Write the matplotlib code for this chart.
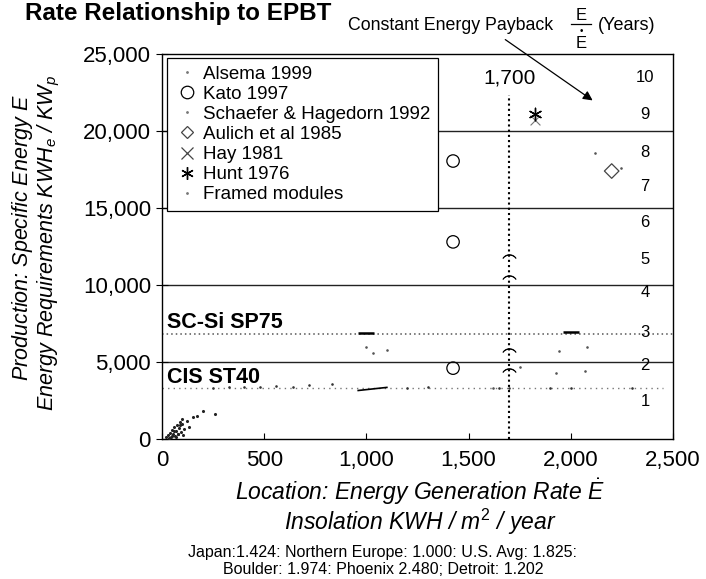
import matplotlib
matplotlib.use("Agg")
import matplotlib.pyplot as plt
from matplotlib.lines import Line2D
from matplotlib.ticker import FuncFormatter

plt.rcParams['font.family'] = ['Liberation Sans', 'DejaVu Sans']
plt.rcParams['mathtext.fontset'] = 'custom'
plt.rcParams['mathtext.rm'] = 'Liberation Sans'
plt.rcParams['mathtext.it'] = 'Liberation Sans:italic'

# ---- data ----
kato_x = [1424, 1424, 1424]
kato_y = [18050, 12800, 4600]
hunt_x = [1825]
hunt_y = [21100]
hay_x = [1825]
hay_y = [20700]
aulich_x = [2200]
aulich_y = [17400]
alsema_x = [1000, 1030, 1100, 1940, 2080, 1930, 2070, 1620, 1750, 2120, 2245]
alsema_y = [6000, 5600, 5750, 5700, 5950, 4300, 4400, 3300, 4700, 18600, 17600]
schaefer_x = [1700, 1700, 1700, 1700]
schaefer_y = [11900, 10500, 5800, 4500]
framed_x = [20, 30, 40, 45, 50, 55, 60, 65, 70, 75, 80, 85, 90, 95, 100, 105, 110,
            35, 48, 58, 68, 78, 88, 98, 120, 130, 150, 170, 200, 260]
framed_y = [100, 250, 400, 150, 600, 300, 800, 200, 500, 900, 350, 700, 1100, 450, 1000, 250, 650,
            50, 180, 520, 120, 300, 900, 1300, 1200, 800, 1400, 1500, 1800, 1600]
scsi_mark_x = [1000, 2000]
scsi_mark_y = [6880, 6950]
cis_seg_x = [960, 1100]
cis_seg_y = [3150, 3350]
cis_dots_x = [250, 330, 400, 480, 560, 640, 720, 830, 1200, 1300, 1650, 1700, 1900, 2000, 2300]
cis_dots_y = [3300, 3350, 3400, 3350, 3450, 3400, 3500, 3550, 3300, 3350, 3300, 3300, 3300, 3280, 3300]

years = [10, 9, 8, 7, 6, 5, 4, 3, 2, 1]
years_y = [23442, 21039, 18636, 16364, 14026, 11688, 9481, 6948, 4805, 2403]
years_x = 2363

grid_levels = [5000, 10000, 15000, 20000]
scsi_level = 6800
cis_level = 3300
ref_rate = 1700

xticks = [0, 500, 1000, 1500, 2000, 2500]
yticks = [0, 5000, 10000, 15000, 20000, 25000]

# ---- figure ----
W, H = 706, 579
fig = plt.figure(figsize=(W / 100, H / 100), dpi=100)
ax = fig.add_axes([162 / W, (H - 439) / H, (673 - 162) / W, (439 - 54) / H])
ax.set_xlim(0, 2500)
ax.set_ylim(0, 25000)

for lv in grid_levels:
    ax.axhline(lv, color='#222222', lw=1.0, zorder=1)
ax.axhline(scsi_level, color='#555555', lw=1.1, ls=(0, (1, 2)), zorder=1)
ax.plot([0, 2450], [cis_level, cis_level], color='#777777', lw=1.0, ls=(0, (1, 3)), zorder=1)
ax.plot([ref_rate, ref_rate], [0, 22340], color='black', lw=1.5, ls=(0, (1, 1.5)), zorder=2)

ax.scatter(alsema_x, alsema_y, s=3, color='#555555', marker='.', zorder=3)
ax.scatter(kato_x, kato_y, s=80, facecolors='none', edgecolors='black', lw=0.9, marker='o', zorder=3)
ax.scatter(schaefer_x, schaefer_y, s=90, color='black', marker=r'$\frown$', lw=0.5, zorder=3)
ax.scatter(aulich_x, aulich_y, s=55, facecolors='none', edgecolors='#444444', lw=0.9, marker='D', zorder=3)
ax.scatter(hay_x, hay_y, s=50, color='#777777', marker='x', lw=0.8, zorder=3)
ax.scatter(hunt_x, hunt_y, s=80, color='black', marker=(6, 2, 0), lw=1.0, zorder=3)
ax.scatter(framed_x, framed_y, s=6, color='#222222', marker='.', zorder=3)
ax.scatter(scsi_mark_x, scsi_mark_y, s=120, color='black', marker='_', lw=1.8, zorder=3)
ax.plot(cis_seg_x, cis_seg_y, color='black', lw=1.2, zorder=3)
ax.scatter(cis_dots_x, cis_dots_y, s=3, color='#333333', marker='.', zorder=3)

# legend
handles = [
    Line2D([], [], ls='none', marker='.', ms=2, color='#777777'),
    Line2D([], [], ls='none', marker='o', ms=9, mfc='none', mec='black', mew=0.9),
    Line2D([], [], ls='none', marker='.', ms=2, color='#777777'),
    Line2D([], [], ls='none', marker='D', ms=6, mfc='none', mec='#444444', mew=0.9),
    Line2D([], [], ls='none', marker='x', ms=8, color='#444444', mew=0.9),
    Line2D([], [], ls='none', marker=(6, 2, 0), ms=9, color='black', mew=1.0),
    Line2D([], [], ls='none', marker='.', ms=2, color='#777777'),
]
labels = ['Alsema 1999', 'Kato 1997', 'Schaefer & Hagedorn 1992', 'Aulich et al 1985',
          'Hay 1981', 'Hunt 1976', 'Framed modules']
leg = ax.legend(handles, labels, loc='upper left', bbox_to_anchor=(5 / 511, (439 - 58) / 385),
                borderaxespad=0, fontsize=13.5, frameon=True, fancybox=False, framealpha=1,
                edgecolor='black', handlelength=1.3, handletextpad=0.2, labelspacing=0.16,
                borderpad=0.4)
leg.get_frame().set_linewidth(0.9)
leg.set_zorder(5)

# annotations
for n, yy in zip(years, years_y):
    ax.text(years_x, yy, str(n), ha='center', va='center', fontsize=12, zorder=4)
ax.text(ref_rate, 23442, '1,700', ha='center', va='center', fontsize=15)
ax.text(25, 7200, 'SC-Si SP75', ha='left', va='baseline', fontsize=15.5, fontweight='bold')
ax.text(25, 3650, 'CIS ST40', ha='left', va='baseline', fontsize=15.5, fontweight='bold')

# axes styling
ax.set_xticks(xticks)
ax.set_yticks(yticks)
fmt = FuncFormatter(lambda v, p: f'{int(v):,}')
ax.xaxis.set_major_formatter(fmt)
ax.yaxis.set_major_formatter(fmt)
ax.tick_params(axis='x', direction='in', length=4, labelsize=16, pad=8)
ax.tick_params(axis='y', direction='inout', length=8, labelsize=16, pad=4)
for sp in ax.spines.values():
    sp.set_linewidth(1.0)

# titles and labels
fig.text(25 / W, 1 - 20 / H, 'Rate Relationship to EPBT', fontsize=17.5, fontweight='bold',
         ha='left', va='baseline')
fig.text(348 / W, 1 - 26 / H, 'Constant Energy Payback', fontsize=12.8, ha='left', va='center')
fig.text(581 / W, 1 - 15 / H, 'E', fontsize=12, ha='center', va='center')
fig.add_artist(Line2D([571 / W, 591 / W], [1 - 24 / H, 1 - 24 / H], color='black', lw=0.9))
fig.text(581 / W, 1 - 43 / H, 'E', fontsize=12, ha='center', va='center')
fig.text(581 / W, 1 - 31 / H, '•', fontsize=7, ha='center', va='center')
fig.text(598 / W, 1 - 26 / H, '(Years)', fontsize=13, ha='left', va='center')
ax.annotate('', xy=(2118, 21883), xycoords='data', xytext=(503 / W, 1 - 38 / H),
            textcoords='figure fraction',
            arrowprops=dict(arrowstyle='-|>', color='black', lw=0.9, mutation_scale=14))

fig.text(23 / W, 1 - 238 / H, 'Production: Specific Energy $\\mathit{E}$', rotation=90,
         fontsize=15.5, style='italic', ha='center', va='center')
fig.text(49 / W, 1 - 243 / H, 'Energy Requirements KWH$_e$ / KW$_p$', rotation=90,
         fontsize=15.5, style='italic', ha='center', va='center')

fig.text(420 / W, 1 - 492 / H, 'Location: Energy Generation Rate $\\dot{E}$', fontsize=16.5,
         style='italic', ha='center', va='center')
fig.text(420 / W, 1 - 522 / H, 'Insolation KWH / $\\mathit{m}^2$ / year', fontsize=16.5,
         style='italic', ha='center', va='center')
fig.text(383 / W, 1 - 553 / H, 'Japan:1.424: Northern Europe: 1.000: U.S. Avg: 1.825:',
         fontsize=11.5, ha='center', va='center')
fig.text(383 / W, 1 - 570 / H, 'Boulder: 1.974: Phoenix 2.480; Detroit: 1.202',
         fontsize=11.5, ha='center', va='center')

fig.savefig('out.png', dpi=100)
